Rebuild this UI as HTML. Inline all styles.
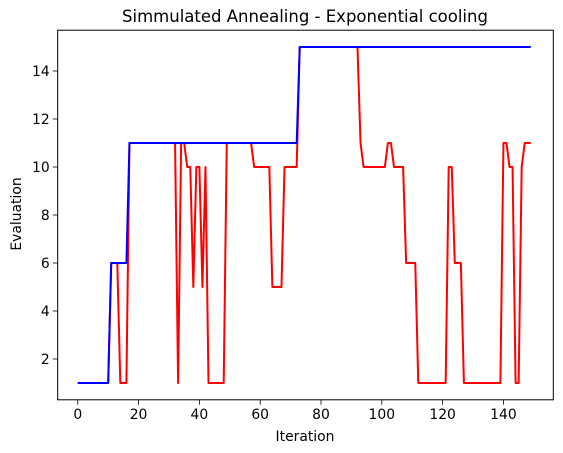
<!DOCTYPE html>
<html><head><meta charset="utf-8"><style>body{margin:0;background:#fff}svg{display:block}text{font-family:"DejaVu Sans","Liberation Sans",sans-serif;fill:#000}</style></head>
<body>
<svg id="chart" width="563" height="453" viewBox="0 0 563 453" xmlns="http://www.w3.org/2000/svg">
<text x="305" y="22" font-size="16.5" text-anchor="middle">Simmulated Annealing - Exponential cooling</text>
<g id="plot"></g>
<text x="305" y="441" font-size="13.9" text-anchor="middle">Iteration</text>
<text transform="translate(21,214) rotate(-90)" font-size="13.9" text-anchor="middle">Evaluation</text>
</svg>
<script>
const currentValues = [1, 1,1,1,1,1,1,1,1,1,1, 6,6,6,1,1,1, 11,11,11,11,11,11,11,11,11,11,11,11,11,11,11,11, 1,11,11,10,10,5,10,10,5,10, 1,1,1,1,1,1, 11,11,11,11,11,11,11,11,11, 10,10,10,10,10,10, 5,5,5,5, 10,10,10,10,10, 15,15,15,15,15,15,15,15,15,15,15,15,15,15,15,15,15,15,15,15, 11, 10,10,10,10,10,10,10,10, 11,11,10,10,10,10,6,6,6,6, 1,1,1,1,1,1,1,1,1,1, 10,10,6,6,6, 1,1,1,1,1,1,1,1,1,1,1,1,1, 11,11,10,10,1,1,10,11,11,11];
const bestValues = [1, 1,1,1,1,1,1,1,1,1,1, 6,6,6,6,6,6, 11,11,11,11,11,11,11,11,11,11,11,11,11,11,11,11, 11,11,11,11,11,11,11,11,11,11, 11,11,11,11,11,11, 11,11,11,11,11,11,11,11,11, 11,11,11,11,11,11, 11,11,11,11, 11,11,11,11,11, 15,15,15,15,15,15,15,15,15,15,15,15,15,15,15,15,15,15,15,15, 15, 15,15,15,15,15,15,15,15, 15,15,15,15,15,15,15,15,15,15, 15,15,15,15,15,15,15,15,15,15, 15,15,15,15,15, 15,15,15,15,15,15,15,15,15,15,15,15,15, 15,15,15,15,15,15,15,15,15,15];
const xTicks = [0,20,40,60,80,100,120,140];
const yTicks = [2,4,6,8,10,12,14];

const L=57.7,R=553.3,T=30.2,B=399.8;
const xmin=-6.6, xmax=156.4;
const all=currentValues.concat(bestValues);
const vmin=Math.min(...all), vmax=Math.max(...all), m=(vmax-vmin)*0.05;
const ymin=vmin-m, ymax=vmax+m;
const X=v=>L+(v-xmin)/(xmax-xmin)*(R-L);
const Y=v=>B-(v-ymin)/(ymax-ymin)*(B-T);
const NS='http://www.w3.org/2000/svg';
const g=document.getElementById('plot');
function mk(t,a){const e=document.createElementNS(NS,t);for(const k in a)e.setAttribute(k,a[k]);g.appendChild(e);return e;}
function line(vals,color,name){
  const p=vals.map((v,i)=>X(i).toFixed(2)+','+Y(v).toFixed(2)).join(' ');
  const e=mk('polyline',{points:p,fill:'none',stroke:color,'stroke-width':2,'stroke-linejoin':'round'});
  
  
}
line(currentValues,'#ff0000','current-evaluation-line');
line(bestValues,'#0000ff','best-evaluation-line');
const frame=mk('rect',{x:L,y:T,width:R-L,height:B-T,fill:'none',stroke:'#000','stroke-width':1});


xTicks.forEach(t=>{
  const x=X(t);
  const tk=mk('line',{x1:x,x2:x,y1:B,y2:B+4.9,stroke:'#000','stroke-width':0.8});
  
  
  const lb=mk('text',{x:x,y:B+19,'font-size':13.9,'text-anchor':'middle'});
  lb.textContent=t;
  
  
});
yTicks.forEach(t=>{
  const y=Y(t);
  const tk=mk('line',{x1:L-4.9,x2:L,y1:y,y2:y,stroke:'#000','stroke-width':0.8});
  
  
  const lb=mk('text',{x:L-8,y:y+5,'font-size':13.9,'text-anchor':'end'});
  lb.textContent=t;
  
  
});
</script>
</body></html>
